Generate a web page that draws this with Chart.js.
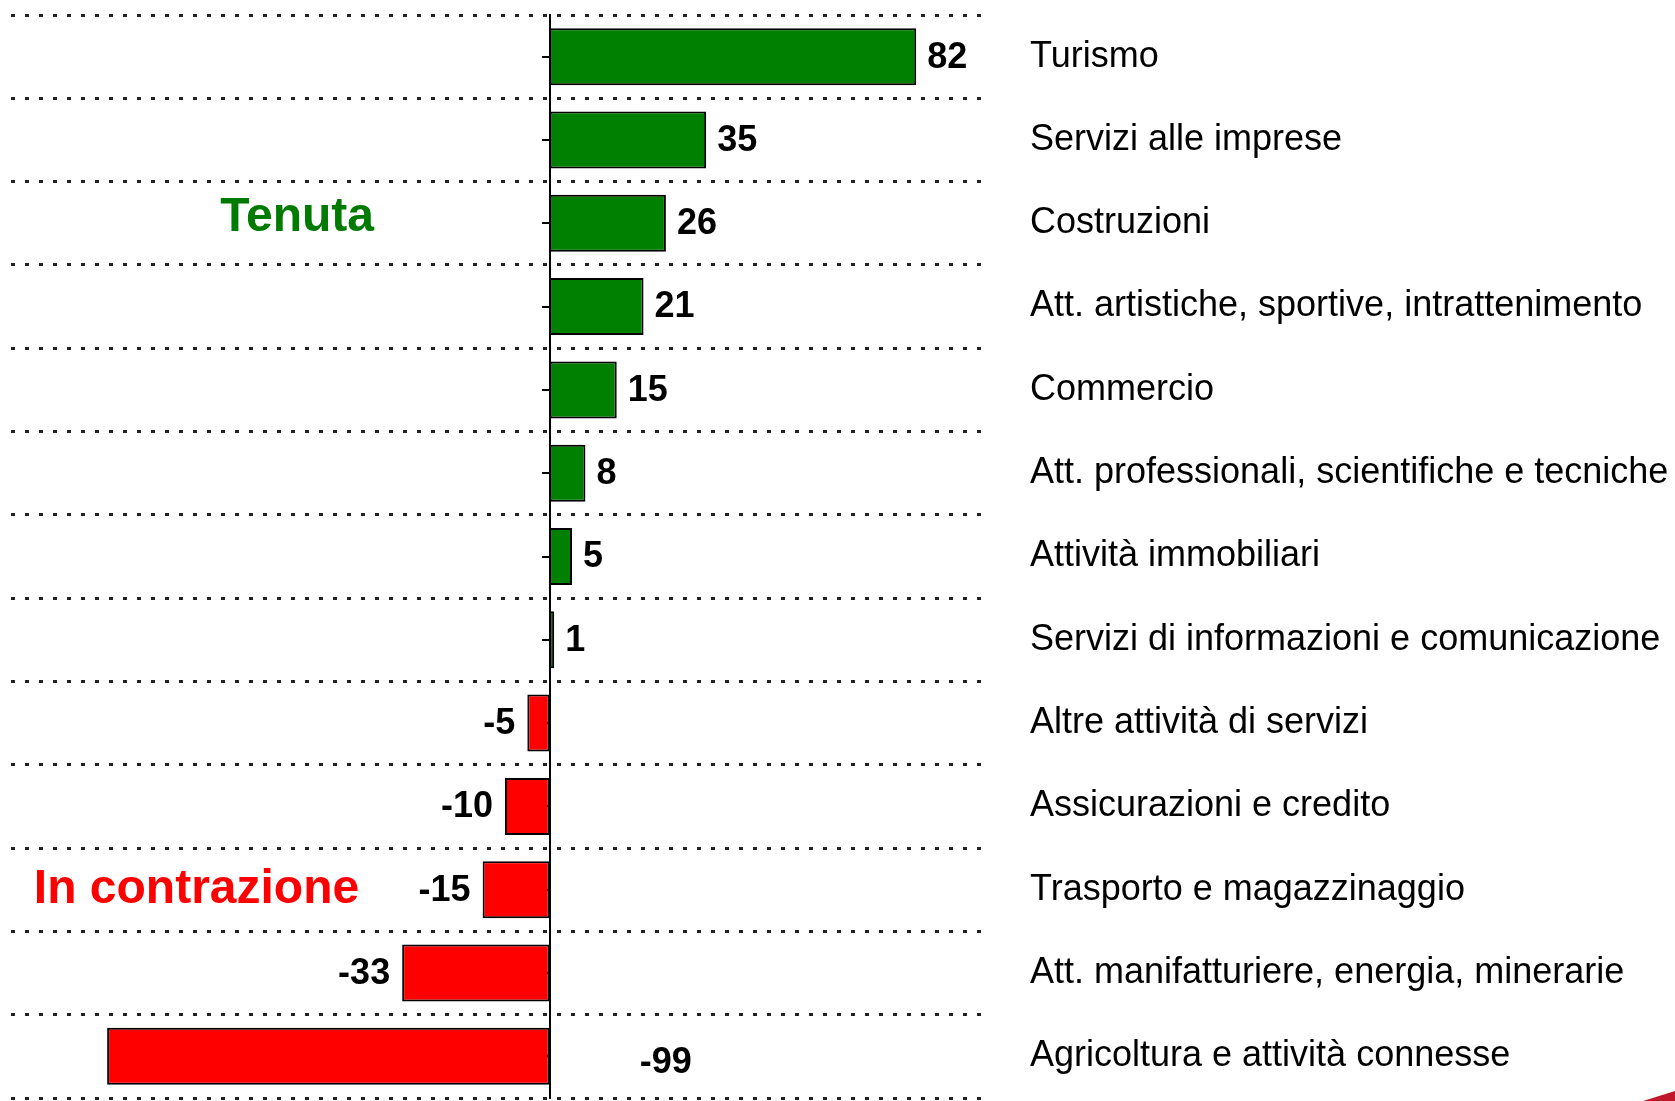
<!DOCTYPE html>
<html>
<head>
<meta charset="utf-8">
<title>Settori</title>
<script src="https://cdn.jsdelivr.net/npm/chart.js@4/dist/chart.umd.min.js"></script>
<style>
  body { margin: 0; background: #fff; }
  #c { display: block; }
</style>
</head>
<body>
<canvas id="c" width="1675" height="1101"></canvas>
<script>
// dati
var categories = [
  'Turismo',
  'Servizi alle imprese',
  'Costruzioni',
  'Att. artistiche, sportive, intrattenimento',
  'Commercio',
  'Att. professionali, scientifiche e tecniche',
  'Attività immobiliari',
  'Servizi di informazioni e comunicazione',
  'Altre attività di servizi',
  'Assicurazioni e credito',
  'Trasporto e magazzinaggio',
  'Att. manifatturiere, energia, minerarie',
  'Agricoltura e attività connesse'
];
var values = [82, 35, 26, 21, 15, 8, 5, 1, -5, -10, -15, -33, -99];

var FONT = '"Liberation Sans", Arial, sans-serif';
var GREEN = '#008000';
var RED = '#ff0000';

// niente padding extra per le etichette agli estremi
function noPad(scale) {
  scale.paddingTop = 0;
  scale.paddingBottom = 0;
}

// etichette dei valori, scritte "Tenuta" / "In contrazione", triangolino in basso
var labelsPlugin = {
  id: 'labels',
  afterDatasetsDraw: function (chart) {
    var ctx = chart.ctx;
    var xs = chart.scales.x;
    var ys = chart.scales.y;
    var meta = chart.getDatasetMeta(0);
    var minVal = Math.min.apply(null, values);
    ctx.save();
    ctx.font = 'bold 36px ' + FONT;
    ctx.fillStyle = '#000';
    ctx.textBaseline = 'middle';
    meta.data.forEach(function (bar, i) {
      var v = values[i];
      var txt = String(v);
      if (v >= 0) {
        ctx.textAlign = 'left';
        ctx.fillText(txt, bar.x + 11, bar.y + 1);
      } else if (v === minVal) {
        // la barra piu' lunga ha l'etichetta a destra dell'asse
        ctx.textAlign = 'left';
        ctx.fillText(txt, xs.getPixelForValue(0) + 90, bar.y + 7);
      } else {
        ctx.textAlign = 'right';
        ctx.fillText(txt, bar.x - 12, bar.y + 1);
      }
    });

    ctx.font = 'bold 48px ' + FONT;
    ctx.textAlign = 'center';
    ctx.fillStyle = '#007a00';
    ctx.fillText('Tenuta', xs.getPixelForValue(-56.5), ys.getPixelForValue(2) - 6);
    ctx.fillStyle = RED;
    ctx.fillText('In contrazione', xs.getPixelForValue(-79), ys.getPixelForValue(10));

    ctx.fillStyle = '#c0182a';
    ctx.beginPath();
    ctx.moveTo(chart.width - 32, chart.height);
    ctx.lineTo(chart.width, chart.height - 10);
    ctx.lineTo(chart.width, chart.height);
    ctx.closePath();
    ctx.fill();
    ctx.restore();
  }
};

var chart = new Chart(document.getElementById('c'), {
  type: 'bar',
  data: {
    labels: categories,
    datasets: [{
      data: values,
      backgroundColor: values.map(function (v) { return v >= 0 ? GREEN : RED; }),
      borderColor: '#000',
      borderWidth: 2,
      borderSkipped: false,
      categoryPercentage: 1,
      barPercentage: 0.684
    }]
  },
  options: {
    indexAxis: 'y',
    responsive: false,
    animation: false,
    layout: { padding: { left: 11, top: 15, bottom: 3, right: 0 } },
    plugins: {
      legend: { display: false },
      tooltip: { enabled: false }
    },
    scales: {
      x: {
        type: 'linear',
        min: -120.5,
        max: 98.5,
        display: false
      },
      y: {
        position: 'right',
        afterFit: function (scale) {
          scale.width = 685;
          noPad(scale);
        },
        grid: {
          offset: true,
          drawTicks: false,
          color: '#222',
          lineWidth: 3
        },
        border: { display: false, dash: [4, 10] },
        ticks: {
          padding: 40,
          color: '#000',
          font: { family: FONT, size: 36 }
        }
      },
      yZero: {
        axis: 'y',
        type: 'category',
        position: { x: 0 },
        z: 1,
        afterFit: noPad,
        grid: {
          offset: false,
          drawOnChartArea: false,
          tickLength: 7,
          color: '#000',
          lineWidth: 2
        },
        border: { color: '#000', width: 2 },
        ticks: { display: false }
      }
    }
  },
  plugins: [labelsPlugin]
});
</script>
</body>
</html>
